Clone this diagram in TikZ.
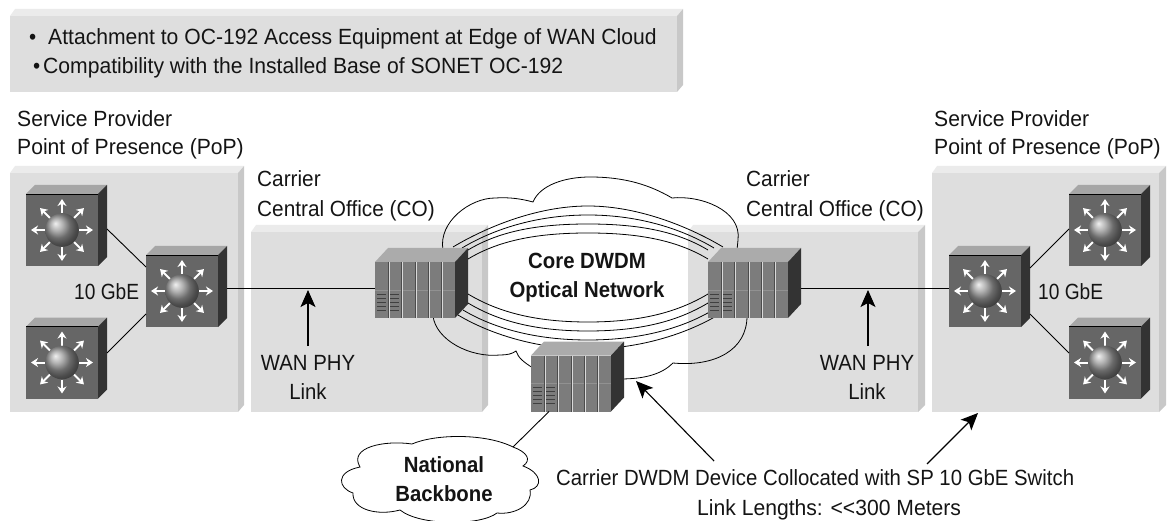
\documentclass[tikz,border=0pt]{standalone}
\usepackage{fontspec}
\setmainfont[FakeStretch=0.925]{Liberation Sans}
\newfontfamily\widefont[FakeStretch=0.96]{Liberation Sans}
\newfontfamily\midfont[FakeStretch=0.945]{Liberation Sans}
\newfontfamily\narrowfont[FakeStretch=0.87]{Liberation Sans}
\usetikzlibrary{arrows.meta}
\definecolor{panelfront}{HTML}{DEDEDE}
\definecolor{paneltop}{HTML}{EBEBEB}
\definecolor{panelside}{HTML}{C8C8C8}
\definecolor{swfront}{HTML}{666666}
\definecolor{swtop}{HTML}{A6A6A6}
\definecolor{swside}{HTML}{333333}
\definecolor{devfront}{HTML}{7C7C7C}
\definecolor{devtop}{HTML}{ABABAB}
\newcommand{\panelbox}[6]{% x1 x2 x3 ytop yfront ybottom
  \fill[paneltop] (#1,#5) -- (#1+5,#4) -- (#3,#4) -- (#2,#5) -- cycle;
  \fill[panelside] (#2,#5) -- (#3,#4) -- (#3,#6-7) -- (#2,#6) -- cycle;
  \fill[panelfront] (#1,#5) rectangle (#2,#6);
}
\tikzset{
  x=1pt,y=-1pt,
  txt/.style={anchor=base west,inner sep=0pt,font=\fontsize{22}{24}\selectfont,text=black!92},
  widetxt/.style={txt,font=\fontsize{22}{24}\selectfont\widefont},
  midtxt/.style={txt,font=\fontsize{22}{24}\selectfont\midfont},
  narrowtxt/.style={txt,font=\fontsize{22}{24}\selectfont\narrowfont},
  txtc/.style={txt,anchor=base},
  boldtxt/.style={txtc,font=\fontsize{22}{24}\selectfont\bfseries},
  wire/.style={draw=black,line width=0.9pt},
  thin wire/.style={draw=black,line width=0.8pt},
  callout/.style={draw=black,line width=1.1pt,-{Stealth[length=17pt,width=15pt,inset=4pt]}},
  swbox/.pic={
    \fill[swfront] (-36,-36) rectangle (36,36);
    \fill[swtop] (-36,-36) -- (-27,-45) -- (45,-45) -- (36,-36) -- cycle;
    \fill[swside] (36,-36) -- (45,-45) -- (45,27) -- (36,36) -- cycle;
    \draw[black,line width=0.8pt] (-36,-36) -- (36,-36);
    \foreach \a in {0,45,...,315}
      \draw[white,line width=2pt,-{Stealth[length=7pt,width=9pt]}] (\a:17) -- (\a:31);
    \shade[ball color=black!40] (0,0) circle[radius=16.8];
    \coordinate (-r) at (45,-3);
    \coordinate (-l) at (-36,-3);
    \coordinate (-ru) at (45,-23);
    \coordinate (-rd) at (45,23);
    \coordinate (-lu) at (-36,-24);
    \coordinate (-ld) at (-36,23);
    \coordinate (-rt) at (45,-1);
    \coordinate (-rb) at (45,-9.5);
    \coordinate (-lt) at (-36,-1);
    \coordinate (-lb) at (-36,-9.5);
  },
  devbox/.pic={
    \fill[devfront] (-40,-28) rectangle (40,28);
    \fill[devtop] (-40,-28) -- (-27,-42) -- (53,-42) -- (40,-28) -- cycle;
    \fill[swside] (40,-28) -- (53,-42) -- (53,14) -- (40,28) -- cycle;
    \draw[black!15!devtop,line width=0.8pt] (-40,0) -- (40,0);
    \foreach \k in {1,...,5} {
      \draw[black!70,line width=0.9pt] (-40+\k*13.33,-28) -- (-40+\k*13.33,28);
      \draw[black!15,line width=0.5pt] (-39+\k*13.33,-28) -- (-39+\k*13.33,28);
    }
    \foreach \v in {4,8,12,16,20} {
      \draw[black!75,line width=0.9pt] (-38,\v) -- (-29,\v);
      \draw[black!75,line width=0.9pt] (-25,\v) -- (-16,\v);
    }
    \coordinate (-l) at (-40,-2);
    \coordinate (-r) at (53,-2);
    \coordinate (-b) at (-22,28);
  }
}
\begin{document}
\begin{tikzpicture}
\useasboundingbox (0,0) rectangle (1175,521);
% panels
\panelbox{10}{677}{683}{9}{16}{92}
\panelbox{10}{238}{244}{166}{173}{412}
\panelbox{251}{482}{488}{225}{232}{412}
\panelbox{688}{918}{925}{225}{232}{412}
\panelbox{932}{1159}{1166}{166}{173}{412}
% rings
\foreach \xa/\ya/\ap in {468/259/233,468/250/224,462/248/215,453/247/206}{
  \draw[thin wire] (\xa,\ya) .. controls (\xa+30,\ya-18) and (535,\ap) .. (588,\ap)
     .. controls (641,\ap) and (1176-\xa-30,\ya-18) .. (1176-\xa,\ya);
}
\foreach \xa/\ya/\ap in {468/294/322,468/303/331,463/310/340,458/315/349}{
  \draw[thin wire] (\xa,\ya) .. controls (\xa+30,\ya+18) and (535,\ap) .. (588,\ap)
     .. controls (641,\ap) and (1176-\xa-30,\ya+18) .. (1176-\xa,\ya);
}
% core cloud
\draw[thin wire] (443,250) .. controls (438,222) and (470,198) .. (495,198)
  .. controls (510,197) and (522,199) .. (533,202)
  .. controls (540,185) and (565,177) .. (590,177)
  .. controls (625,177) and (650,185) .. (672,198)
  .. controls (700,195) and (742,210) .. (738,240) -- (737,250);
\draw[thin wire] (433,316) .. controls (436,340) and (470,358) .. (500,355)
  .. controls (507,355) and (512,354) .. (516,351)
  .. controls (518,358) and (525,363) .. (533,368);
\draw[thin wire] (620,379) .. controls (645,379) and (662,374) .. (673,363)
  .. controls (715,367) and (747,350) .. (747,316);
% switches and devices
\pic (sa) at (62,230) {swbox};
\pic (sb) at (62,362.5) {swbox};
\pic (sc) at (182,291) {swbox};
\pic (sd) at (985,291) {swbox};
\pic (se) at (1105,230) {swbox};
\pic (sf) at (1105,362.5) {swbox};
\pic (da) at (415,290) {devbox};
\pic (db) at (748,290) {devbox};
\pic (dc) at (571,383.5) {devbox};
% links
\draw[wire] (sa-rt) -- (sc-lu);
\draw[wire] (sb-rb) -- (sc-ld);
\draw[wire] (sc-r) -- (da-l);
\draw[wire] (db-r) -- (sd-l);
\draw[wire] (sd-ru) -- (se-lt);
\draw[wire] (sd-rd) -- (sf-lb);
% national backbone
\coordinate (nbtop) at (513,447);
\draw[thin wire] (412,444) .. controls (435,434) and (485,433) .. (nbtop)
  .. controls (527,452) and (532,460) .. (523,466)
  .. controls (542,473) and (543,487) .. (530,490)
  .. controls (533,505) and (515,515) .. (497,513)
  .. controls (480,526) and (420,526) .. (400,510)
  .. controls (378,516) and (352,510) .. (353,493)
  .. controls (338,488) and (335,472) .. (360,467)
  .. controls (348,447) and (385,440) .. (412,444);
\draw[wire] (dc-b) -- (nbtop);
% callouts
\coordinate (wa0) at (308,346); \coordinate (wa1) at (308,290);
\coordinate (wb0) at (868,346); \coordinate (wb1) at (868,290);
\coordinate (ca0) at (714,461); \coordinate (ca1) at (636,381);
\coordinate (cb0) at (927,464); \coordinate (cb1) at (978,413);
\draw[callout] (wa0) -- (wa1);
\draw[callout] (wb0) -- (wb1);
\draw[callout] (ca0) -- (ca1);
\draw[callout] (cb0) -- (cb1);
% texts
\node[txt] (t1b) at (29,45) {•};
\node[widetxt] (t1) at (48,45) {Attachment to OC-192 Access Equipment at Edge of WAN Cloud};
\node[txt] (t2b) at (33,74) {•};
\node[widetxt] (t2) at (43,74) {Compatibility with the Installed Base of SONET OC-192};
\node[widetxt] (sp1) at (17,127) {Service Provider};
\node[widetxt] (sp2) at (17,155) {Point of Presence (PoP)};
\node[widetxt] (sp3) at (934,127) {Service Provider};
\node[widetxt] (sp4) at (934,155) {Point of Presence (PoP)};
\node[midtxt] (co1) at (257,187) {Carrier};
\node[midtxt] (co2) at (257,217) {Central Office (CO)};
\node[midtxt] (co3) at (746,187) {Carrier};
\node[midtxt] (co4) at (746,217) {Central Office (CO)};
\node[narrowtxt] (ge1) at (74,299) {10 GbE};
\node[narrowtxt] (ge2) at (1038,299) {10 GbE};
\node[txtc] (wp1) at (308,370) {WAN PHY};
\node[txtc] (wl1) at (308,399) {Link};
\node[txtc] (wp2) at (867,370) {WAN PHY};
\node[txtc] (wl2) at (867,399) {Link};
\node[boldtxt] (cd1) at (587,269) {Core DWDM};
\node[boldtxt] (cd2) at (587,298) {Optical Network};
\node[boldtxt] (nb1) at (444,472) {National};
\node[boldtxt] (nb2) at (444,501) {Backbone};
\node[txt] (cap1) at (556,485) {Carrier DWDM Device Collocated with SP 10 GbE Switch};
\node[widetxt] (cap2) at (697,515) {Link Lengths: <{}<300 Meters};
\end{tikzpicture}
\end{document}
